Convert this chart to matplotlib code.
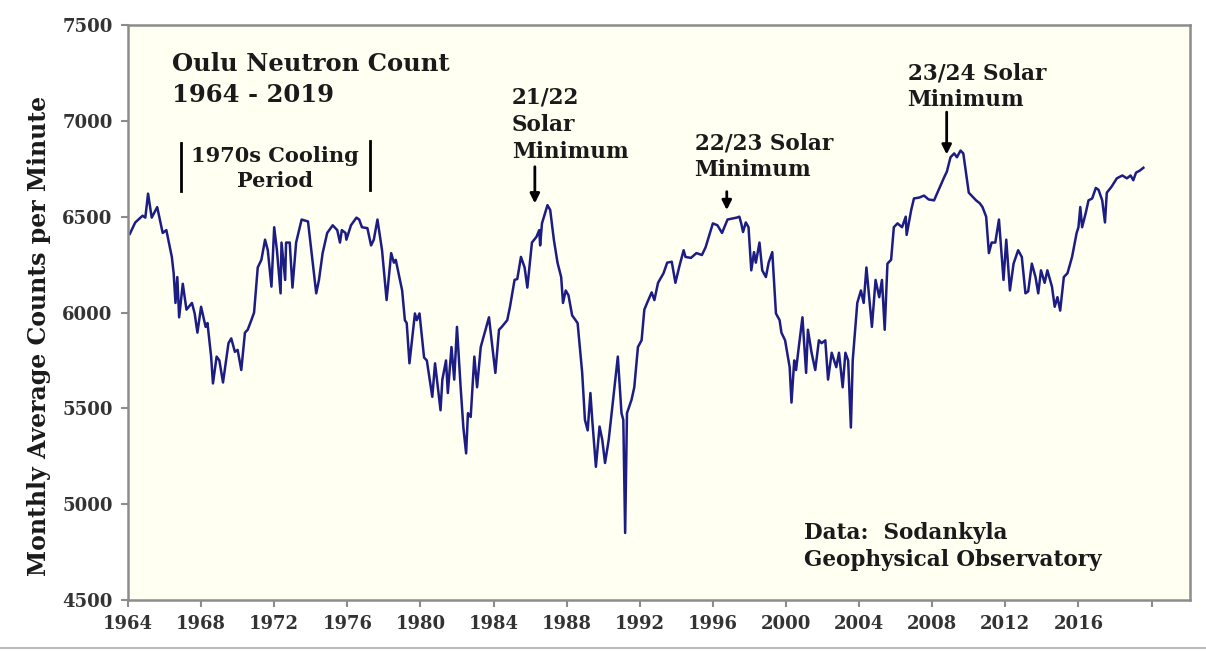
import numpy as np
import matplotlib.pyplot as plt
from matplotlib.lines import Line2D

# Oulu neutron monitor, monthly average counts per minute
years = [1964.1, 1964.4, 1964.8, 1964.95, 1965.1, 1965.3, 1965.6, 1965.9, 1966.1, 1966.4,
         1966.5, 1966.6, 1966.7, 1966.8, 1967.0, 1967.2, 1967.5, 1967.65, 1967.8, 1968.0,
         1968.25, 1968.35, 1968.55, 1968.65, 1968.85, 1969.0, 1969.2, 1969.5, 1969.65, 1969.85,
         1970.0, 1970.2, 1970.4, 1970.55, 1970.75, 1970.9, 1971.1, 1971.3, 1971.5, 1971.65,
         1971.85, 1972.0, 1972.15, 1972.35, 1972.4, 1972.6, 1972.65, 1972.85, 1973.0, 1973.2,
         1973.5, 1973.85, 1974.05, 1974.3, 1974.45, 1974.65, 1974.9, 1975.2, 1975.45, 1975.6,
         1975.7, 1975.9, 1975.95, 1976.2, 1976.5, 1976.65, 1976.8, 1977.1, 1977.3, 1977.45,
         1977.65, 1977.9, 1978.15, 1978.4, 1978.55, 1978.65, 1979.0, 1979.15, 1979.25, 1979.4,
         1979.7, 1979.8, 1979.95, 1980.2, 1980.35, 1980.65, 1980.8, 1981.1, 1981.2, 1981.4,
         1981.5, 1981.7, 1981.85, 1982.0, 1982.2, 1982.35, 1982.5, 1982.6, 1982.75, 1982.95,
         1983.1, 1983.3, 1983.75, 1984.1, 1984.3, 1984.45, 1984.75, 1984.9, 1985.15, 1985.3,
         1985.5, 1985.7, 1985.85, 1986.1, 1986.35, 1986.5, 1986.55, 1986.65, 1986.95, 1987.1,
         1987.3, 1987.5, 1987.7, 1987.8, 1987.95, 1988.1, 1988.3, 1988.6, 1988.85, 1989.0,
         1989.15, 1989.3, 1989.4, 1989.6, 1989.8, 1989.95, 1990.1, 1990.3, 1990.6, 1990.8,
         1991.0, 1991.1, 1991.2, 1991.3, 1991.55, 1991.7, 1991.9, 1992.1, 1992.25, 1992.4,
         1992.65, 1992.8, 1993.0, 1993.3, 1993.5, 1993.75, 1993.95, 1994.15, 1994.4, 1994.5,
         1994.8, 1995.1, 1995.4, 1995.6, 1996.0, 1996.25, 1996.5, 1996.8, 1997.3, 1997.45,
         1997.55, 1997.65, 1997.8, 1997.95, 1998.1, 1998.25, 1998.35, 1998.55, 1998.7, 1998.9,
         1999.05, 1999.25, 1999.45, 1999.65, 1999.75, 1999.95, 2000.2, 2000.3, 2000.45, 2000.55,
         2000.7, 2000.9, 2001.1, 2001.2, 2001.4, 2001.6, 2001.8, 2001.95, 2002.15, 2002.3,
         2002.5, 2002.75, 2002.9, 2003.1, 2003.25, 2003.4, 2003.55, 2003.65, 2003.9, 2004.1,
         2004.25, 2004.4, 2004.7, 2004.9, 2005.1, 2005.25, 2005.4, 2005.55, 2005.75, 2005.9,
         2006.1, 2006.35, 2006.55, 2006.6, 2006.85, 2007.0, 2007.3, 2007.55, 2007.8, 2008.1,
         2008.35, 2008.65, 2008.8, 2009.0, 2009.2, 2009.35, 2009.55, 2009.7, 2010.0, 2010.2,
         2010.4, 2010.6, 2010.75, 2010.95, 2011.1, 2011.25, 2011.45, 2011.65, 2011.9, 2012.05,
         2012.25, 2012.45, 2012.7, 2012.9, 2013.1, 2013.25, 2013.45, 2013.65, 2013.8, 2013.95,
         2014.15, 2014.3, 2014.55, 2014.7, 2014.85, 2015.0, 2015.2, 2015.4, 2015.65, 2015.9,
         2016.0, 2016.1, 2016.2, 2016.4, 2016.55, 2016.75, 2016.95, 2017.1, 2017.3, 2017.45,
         2017.55, 2017.8, 2018.1, 2018.4, 2018.65, 2018.85, 2019.0, 2019.15, 2019.35, 2019.55]
counts = [6410, 6470, 6505, 6495, 6620, 6495, 6550, 6415, 6430, 6290,
          6205, 6050, 6185, 5975, 6150, 6015, 6050, 5995, 5895, 6030,
          5925, 5945, 5770, 5630, 5770, 5750, 5635, 5840, 5865, 5795,
          5805, 5700, 5895, 5910, 5960, 6000, 6235, 6275, 6380, 6325,
          6135, 6445, 6325, 6100, 6365, 6170, 6365, 6365, 6130, 6365,
          6485, 6475, 6310, 6100, 6170, 6310, 6415, 6455, 6430, 6365,
          6430, 6415, 6380, 6455, 6495, 6485, 6445, 6440, 6350, 6380,
          6485, 6325, 6065, 6310, 6260, 6275, 6115, 5960, 5945, 5735,
          5995, 5960, 5995, 5765, 5750, 5560, 5735, 5490, 5650, 5750,
          5580, 5820, 5650, 5925, 5610, 5400, 5265, 5475, 5455, 5770,
          5610, 5820, 5975, 5685, 5910, 5925, 5960, 6030, 6170, 6175,
          6290, 6235, 6130, 6365, 6395, 6430, 6350, 6465, 6560, 6535,
          6380, 6260, 6185, 6050, 6115, 6090, 5985, 5945, 5685, 5440,
          5385, 5580, 5440, 5195, 5405, 5335, 5215, 5335, 5595, 5770,
          5475, 5440, 4850, 5475, 5545, 5610, 5820, 5855, 6015, 6050,
          6105, 6065, 6155, 6205, 6260, 6265, 6155, 6235, 6325, 6290,
          6285, 6310, 6300, 6340, 6465, 6455, 6415, 6485, 6495, 6500,
          6465, 6420, 6470, 6445, 6220, 6315, 6260, 6365, 6220, 6185,
          6260, 6315, 5995, 5960, 5895, 5855, 5715, 5530, 5750, 5700,
          5820, 5975, 5685, 5910, 5790, 5700, 5855, 5840, 5855, 5650,
          5790, 5715, 5790, 5610, 5790, 5750, 5400, 5750, 6050, 6115,
          6050, 6235, 5925, 6170, 6080, 6170, 5910, 6255, 6275, 6445,
          6465, 6445, 6500, 6405, 6535, 6595, 6600, 6610, 6590, 6585,
          6640, 6705, 6735, 6810, 6830, 6810, 6845, 6830, 6625, 6605,
          6585, 6570, 6550, 6500, 6310, 6365, 6365, 6485, 6170, 6380,
          6115, 6255, 6325, 6290, 6100, 6110, 6255, 6185, 6100, 6220,
          6155, 6220, 6135, 6030, 6080, 6010, 6185, 6205, 6290, 6415,
          6445, 6550, 6445, 6520, 6585, 6595, 6650, 6640, 6585, 6470,
          6625, 6655, 6700, 6715, 6700, 6715, 6690, 6730, 6740, 6755]

xticks = [1964, 1968, 1972, 1976, 1980, 1984, 1988, 1992, 1996, 2000, 2004, 2008, 2012, 2016, 2020]
xticklabels = ['1964', '1968', '1972', '1976', '1980', '1984', '1988', '1992', '1996', '2000',
               '2004', '2008', '2012', '2016', '']
yticks = [4500, 5000, 5500, 6000, 6500, 7000, 7500]

serif = 'DejaVu Serif'
txt_color = '#1a1a1a'

fig = plt.figure(figsize=(12.06, 6.51), dpi=100)
ax = fig.add_axes([0.1061, 0.0783, 0.8806, 0.8833])
ax.set_facecolor('#fffff2')

ax.plot(years, counts, color='#1c1c85', lw=1.8)

ax.set_xlim(1964, 2022.1)
ax.set_ylim(4500, 7500)
ax.set_xticks(xticks)
ax.set_xticklabels(xticklabels)
ax.set_yticks(yticks)

for s in ax.spines.values():
    s.set_color('#8c8c8c')
    s.set_linewidth(1.8)
ax.tick_params(direction='out', length=5, width=1.5, color='#8c8c8c', pad=6)
for lbl in ax.get_xticklabels() + ax.get_yticklabels():
    lbl.set_fontfamily(serif)
    lbl.set_fontweight('bold')
    lbl.set_fontsize(13)
    lbl.set_color('#333333')

ax.set_ylabel('Monthly Average Counts per Minute', fontfamily=serif, fontweight='bold',
              fontsize=17, color=txt_color)
ax.yaxis.set_label_coords(-0.072, 0.46)

# annotations
ax.text(1966.4, 7360, 'Oulu Neutron Count\n1964 - 2019', fontfamily=serif, fontweight='bold',
        fontsize=17.5, color=txt_color, va='top', ha='left', linespacing=1.4)

ax.text(1972.05, 6870, '1970s Cooling\nPeriod', fontfamily=serif, fontweight='bold',
        fontsize=15, color=txt_color, va='top', ha='center', linespacing=1.35)
ax.plot([1966.9, 1966.9], [6635, 6885], color='black', lw=2)
ax.plot([1977.25, 1977.25], [6640, 6895], color='black', lw=2)

ax.text(1985.0, 7180, '21/22\nSolar\nMinimum', fontfamily=serif, fontweight='bold',
        fontsize=15.5, color=txt_color, va='top', ha='left', linespacing=1.32)
ax.annotate('', xy=(1986.26, 6555), xytext=(1986.26, 6775),
            arrowprops=dict(arrowstyle='-|>', color='black', lw=2, mutation_scale=14))

ax.text(1995.0, 6940, '22/23 Solar\nMinimum', fontfamily=serif, fontweight='bold',
        fontsize=15.5, color=txt_color, va='top', ha='left', linespacing=1.25)
ax.annotate('', xy=(1996.76, 6520), xytext=(1996.76, 6645),
            arrowprops=dict(arrowstyle='-|>', color='black', lw=2, mutation_scale=14))

ax.text(2006.65, 7305, '23/24 Solar\nMinimum', fontfamily=serif, fontweight='bold',
        fontsize=15.5, color=txt_color, va='top', ha='left', linespacing=1.25)
ax.annotate('', xy=(2008.79, 6810), xytext=(2008.79, 7060),
            arrowprops=dict(arrowstyle='-|>', color='black', lw=2, mutation_scale=14))

ax.text(2001.0, 4905, 'Data:  Sodankyla\nGeophysical Observatory', fontfamily=serif,
        fontweight='bold', fontsize=15.5, color=txt_color, va='top', ha='left', linespacing=1.3)

# thin grey rule along the bottom of the image
fig.add_artist(Line2D([0, 1], [0.004, 0.004], color='#bbbbbb', lw=1.5))

fig.savefig('out.png', dpi=100)
